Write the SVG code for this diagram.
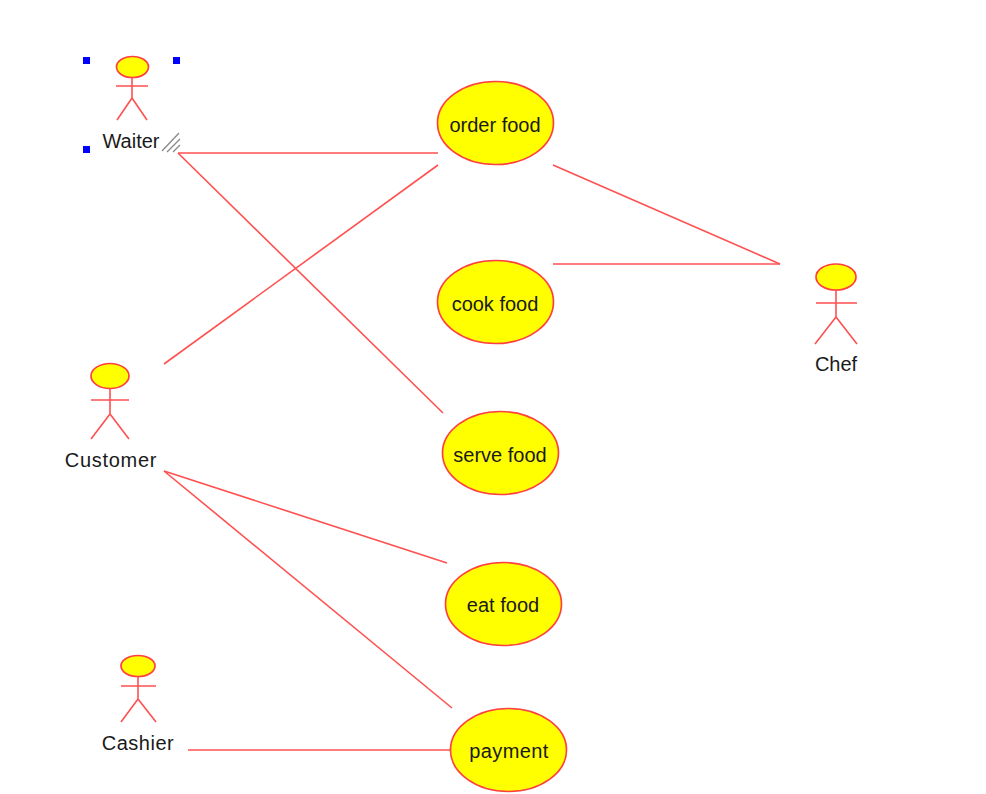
<svg xmlns="http://www.w3.org/2000/svg" width="986" height="794" viewBox="0 0 986 794">
<style>
text{font-family:"Liberation Sans",Arial,sans-serif;font-size:20px;fill:#1a1a1a;text-anchor:middle}
.u{fill:#ffff00;stroke:#ff4040;stroke-width:1.7}
.l{fill:none;stroke:#ff5050;stroke-width:1.6}
.h{fill:#0000ff;stroke:none}
.g{fill:none;stroke:#888;stroke-width:1.3}
</style>
<rect width="986" height="794" fill="#fff"/>
<g id="connectors" class="l">
<path d="M178 153H438"/>
<path d="M178 153L443 413"/>
<path d="M164 364L438 165"/>
<path d="M553 165L780 264"/>
<path d="M553 264H780"/>
<path d="M164 471L447 563"/>
<path d="M164 471L452 708"/>
<path d="M188 750H452"/>
</g>
<g id="waiter"><path class="l" d="M132 77V98M116 86H148M132 98L117 120M132 98L147 120"/><ellipse class="u" cx="132.500" cy="67" rx="16" ry="10.500"/><text x="131" y="148">Waiter</text>
<path class="g" d="M162 151L179 133M167 152L180 139M173 152L180 145"/>
<rect class="h" x="83" y="57" width="7" height="7"/><rect class="h" x="173" y="57" width="7" height="7"/><rect class="h" x="83" y="146" width="7" height="7"/></g>
<g id="customer"><path class="l" d="M110 388V414M91 400H129M110 414L91 439M110 414L129 439"/><ellipse class="u" cx="110" cy="376" rx="19" ry="12.500"/><text x="111" y="467" letter-spacing="0.700">Customer</text></g>
<g id="cashier"><path class="l" d="M138 677V699M121 686H156M138 699L121 722M138 699L156 722"/><ellipse class="u" cx="138" cy="666" rx="17" ry="10.500"/><text x="138" y="750" letter-spacing="0.500">Cashier</text></g>
<g id="chef"><path class="l" d="M836 290V317M816 303H857M836 317L815 344M836 317L857 344"/><ellipse class="u" cx="836" cy="277" rx="20" ry="13"/><text x="836" y="371">Chef</text></g>
<g id="order-food"><ellipse class="u" cx="495.500" cy="123" rx="58" ry="41.500"/><text x="495" y="132">order food</text></g>
<g id="cook-food"><ellipse class="u" cx="495.500" cy="302" rx="58" ry="41.500"/><text x="495" y="311">cook food</text></g>
<g id="serve-food"><ellipse class="u" cx="500.500" cy="453" rx="58" ry="41.500"/><text x="500" y="462">serve food</text></g>
<g id="eat-food"><ellipse class="u" cx="503.500" cy="604" rx="58" ry="41.500"/><text x="503" y="612">eat food</text></g>
<g id="payment"><ellipse class="u" cx="508.500" cy="750" rx="58" ry="41.500"/><text x="509" y="758" letter-spacing="0.400">payment</text></g>
</svg>
